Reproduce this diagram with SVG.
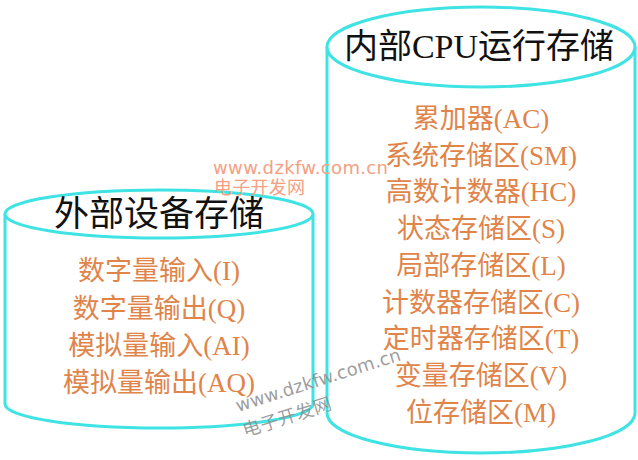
<svg xmlns="http://www.w3.org/2000/svg" width="638" height="460" viewBox="0 0 638 460">
<style>
.cyl{fill:#ffffff;stroke:#3fe3e3;stroke-width:3}
.title{font-family:"Liberation Serif","Noto Sans CJK SC",serif;fill:#111111;text-anchor:middle}
.item{font-family:"Liberation Serif","Noto Sans CJK SC",serif;font-size:27px;fill:#e0844a;text-anchor:middle}
.wm{font-family:"DejaVu Sans","Noto Sans CJK SC",sans-serif;font-size:18px}
</style>
<rect width="638" height="460" fill="#ffffff"/>
<g id="external-storage">
<path class="cyl" d="M5 214 L5 404 A154 24 0 0 0 313 404 L313 214"/>
<ellipse class="cyl" cx="159" cy="214" rx="154" ry="24"/>
<text class="title" x="159" y="226" font-size="35">外部设备存储</text>
<text class="item" x="159" y="280">数字量输入(I)</text>
<text class="item" x="159" y="318">数字量输出(Q)</text>
<text class="item" x="159" y="355">模拟量输入(AI)</text>
<text class="item" x="159" y="392">模拟量输出(AQ)</text>
</g>
<g id="cpu-storage">
<path class="cyl" d="M327 47 L327 413 A154 40 0 0 0 635 413 L635 47"/>
<ellipse class="cyl" cx="481" cy="47" rx="154" ry="40"/>
<text class="title" x="479" y="58" font-size="34">内部CPU运行存储</text>
<text class="item" x="481" y="128">累加器(AC)</text>
<text class="item" x="481" y="165">系统存储区(SM)</text>
<text class="item" x="481" y="201">高数计数器(HC)</text>
<text class="item" x="481" y="238">状态存储区(S)</text>
<text class="item" x="481" y="275">局部存储区(L)</text>
<text class="item" x="481" y="312">计数器存储区(C)</text>
<text class="item" x="481" y="348">定时器存储区(T)</text>
<text class="item" x="481" y="385">变量存储区(V)</text>
<text class="item" x="481" y="422">位存储区(M)</text>
</g>
<g id="connectors"/>
<g id="watermarks">
<text class="wm" x="213" y="174" fill="#f4a083" textLength="175">www.dzkfw.com.cn</text>
<text class="wm" x="214" y="194" fill="#f4a083" font-size="17" textLength="91">电子开发网</text>
<g transform="rotate(-17.6 238 412)" fill="#8c8c8c" fill-opacity="0.85">
<text class="wm" x="238" y="412" textLength="172">www.dzkfw.com.cn</text>
</g>
<g transform="rotate(-17.6 245 437)" fill="#8c8c8c" fill-opacity="0.85">
<text class="wm" x="245" y="437" textLength="92">电子开发网</text>
</g>
</g>
</svg>
